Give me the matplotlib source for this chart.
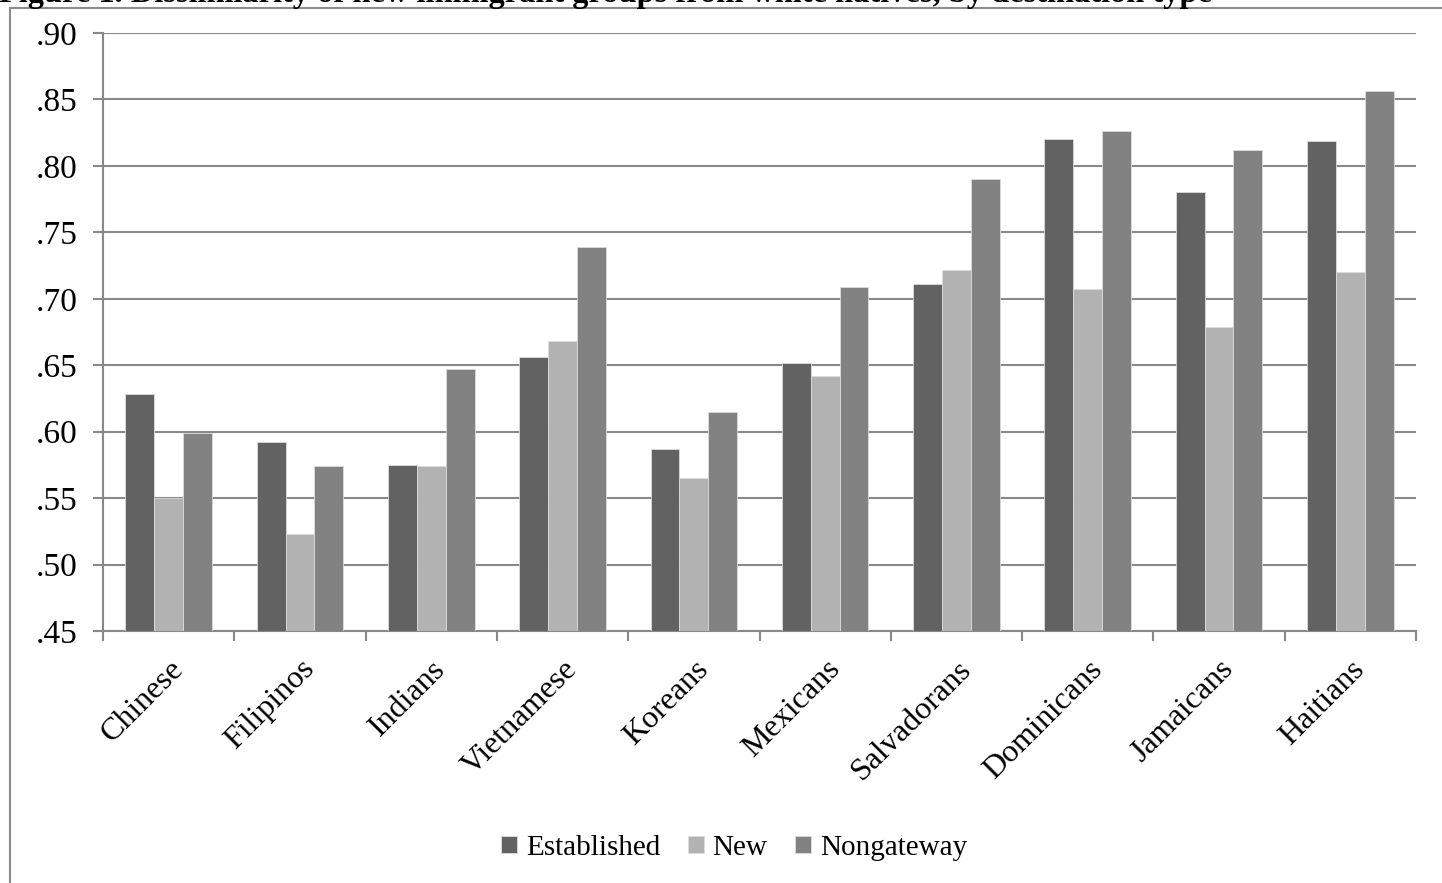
import numpy as np
import matplotlib
matplotlib.use("Agg")
import matplotlib.pyplot as plt
from matplotlib.lines import Line2D
from matplotlib.ticker import FixedLocator, FuncFormatter

plt.rcParams['font.family'] = ['Liberation Serif', 'DejaVu Serif']

groups = ["Chinese", "Filipinos", "Indians", "Vietnamese", "Koreans",
          "Mexicans", "Salvadorans", "Dominicans", "Jamaicans", "Haitians"]
series_names = ["Established", "New", "Nongateway"]
established = [0.628, 0.592, 0.575, 0.656, 0.587, 0.652, 0.711, 0.820, 0.780, 0.819]
new = [0.550, 0.523, 0.574, 0.668, 0.565, 0.642, 0.722, 0.707, 0.679, 0.720]
nongateway = [0.599, 0.574, 0.647, 0.739, 0.615, 0.709, 0.790, 0.826, 0.812, 0.856]
y_ticks = [0.45, 0.50, 0.55, 0.60, 0.65, 0.70, 0.75, 0.80, 0.85, 0.90]

colors = ["#626262", "#b2b2b2", "#828282"]
grid_color = "#888888"

W, H = 1442, 883
fig = plt.figure(figsize=(W / 100, H / 100), dpi=100)
ax = fig.add_axes([103 / W, 1 - 631 / H, (1416 - 103) / W, (631 - 33) / H])

x = np.arange(len(groups))
bw = 0.22
for i, (vals, c, name) in enumerate(zip([established, new, nongateway], colors, series_names)):
    base = y_ticks[0]
    ax.bar(x + (i - 1) * bw, np.array(vals) - base, bottom=base, width=bw,
           color=c, edgecolor="#dcdcdc", linewidth=0.6, label=name, zorder=3)

ax.set_xlim(-0.5, len(groups) - 0.5)
ax.set_ylim(y_ticks[0], y_ticks[-1])

ax.yaxis.set_major_locator(FixedLocator(y_ticks))
ax.yaxis.set_major_formatter(FuncFormatter(lambda v, p: f"{v:.2f}"[1:]))
ax.grid(axis="y", color=grid_color, linewidth=1.5, zorder=1)
ax.set_axisbelow(True)

# category boundaries carry the ticks, centres carry the labels
ax.set_xticks(np.arange(-0.5, len(groups) + 0.5, 1.0))
ax.set_xticklabels([])
ax.set_xticks(x, minor=True)
ax.set_xticklabels(groups, minor=True, rotation=45, ha="right", va="top",
                   rotation_mode="anchor", fontsize=23)
ax.tick_params(axis="x", which="minor", length=0, pad=17)
ax.tick_params(axis="x", which="major", length=7, width=1.5, color=grid_color, direction="out")
ax.tick_params(axis="y", length=7, width=1.5, color=grid_color, labelsize=24, pad=11)

for side in ["top", "right"]:
    ax.spines[side].set_visible(False)
for side in ["left", "bottom"]:
    ax.spines[side].set_color(grid_color)
    ax.spines[side].set_linewidth(1.5)

leg = fig.legend(loc="center", bbox_to_anchor=(734 / W, 1 - 848 / H), ncol=3, frameon=False,
                 fontsize=21, handlelength=0.55, handleheight=0.55, handletextpad=0.3,
                 columnspacing=0.95)

# outer chart frame
fig.add_artist(Line2D([10 / W, 10 / W], [0, 1 - 8 / H], transform=fig.transFigure,
                      color="#8c8c8c", linewidth=1.5))
fig.add_artist(Line2D([10 / W, 1], [1 - 8 / H, 1 - 8 / H], transform=fig.transFigure,
                      color="#8c8c8c", linewidth=1.5))

fig.text(-1 / W, 1 - 2 / H,
         "Figure 1. Dissimilarity of new immigrant groups from white natives, by destination type",
         fontsize=23.3, fontweight="bold", ha="left", va="baseline")

fig.savefig("out.png", dpi=100, facecolor="white")
